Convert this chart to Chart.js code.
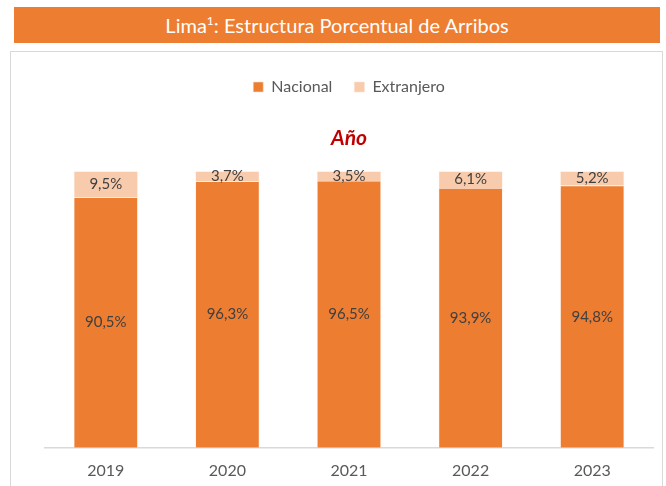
<!DOCTYPE html>
<html>
<head>
<meta charset="utf-8">
<script src="https://cdn.jsdelivr.net/npm/chart.js@4/dist/chart.umd.min.js"></script>
<style>
  html, body { margin: 0; padding: 0; background: #fff; }
  #wrap { position: relative; width: 666px; height: 486px; overflow: hidden; font-family: Lato, sans-serif; }
  #bar { position: absolute; left: 14px; top: 7px; width: 646px; height: 36px; background: #ED7D31;
         color: #fff; font-size: 20px; line-height: 36px; text-align: center; }
  #bar sup { font-size: 12px; vertical-align: 8px; line-height: 0; }
  #box { position: absolute; left: 10px; top: 51px; width: 651px; height: 460px; border: 1.5px solid #D9D9D9; }
  canvas { position: absolute; left: 0; top: 0; }
</style>
</head>
<body>
<div id="wrap">
  <div id="bar">Lima<sup>1</sup>: Estructura Porcentual de Arribos</div>
  <div id="box"></div>
  <canvas id="c" width="666" height="486"></canvas>
</div>
<script>
const years = ['2019', '2020', '2021', '2022', '2023'];
const nacional = [90.5, 96.3, 96.5, 93.9, 94.8];
const extranjero = [9.5, 3.7, 3.5, 6.1, 5.2];
const seriesNames = ['Nacional', 'Extranjero'];

const fmt = v => v.toFixed(1).replace('.', ',') + '%';

const labelPlugin = {
  id: 'segLabels',
  afterDatasetsDraw(chart) {
    const ctx = chart.ctx;
    ctx.save();
    ctx.font = '15px Lato';
    ctx.fillStyle = '#404040';
    ctx.textAlign = 'center';
    ctx.textBaseline = 'middle';
    chart.data.datasets.forEach((ds, i) => {
      const meta = chart.getDatasetMeta(i);
      meta.data.forEach((el, j) => {
        const p = el.getProps(['x', 'y', 'base'], true);
        ctx.fillText(fmt(ds.data[j]), p.x, (p.y + p.base) / 2);
      });
    });
    ctx.restore();
  }
};

new Chart(document.getElementById('c'), {
  type: 'bar',
  data: {
    labels: years,
    datasets: [
      { label: seriesNames[0], data: nacional, backgroundColor: '#ED7D31', borderColor: '#FBE0CF', borderWidth: 0.6 },
      { label: seriesNames[1], data: extranjero, backgroundColor: '#F8CBAD', borderColor: '#FBE0CF', borderWidth: 0.6 }
    ]
  },
  options: {
    responsive: false,
    animation: false,
    layout: { padding: { left: 45, right: 13, top: 57, bottom: -7 } },
    datasets: { bar: { barPercentage: 0.526, categoryPercentage: 1 } },
    scales: {
      x: {
        stacked: true,
        grid: { display: false, drawTicks: false },
        border: { color: '#D9D9D9', width: 1.5 },
        ticks: { color: '#595959', font: { family: 'Lato', size: 16 }, padding: 13 }
      },
      y: { stacked: true, display: false, min: 0, max: 100 }
    },
    plugins: {
      legend: {
        position: 'top',
        weight: 3000,
        labels: { color: '#595959', font: { family: 'Lato', size: 16 }, boxWidth: 10, boxHeight: 10, padding: 22 }
      },
      title: {
        display: true,
        text: 'Año',
        weight: 100,
        color: '#C00000',
        font: { family: 'Lato', size: 21, style: 'italic', weight: 'bold' },
        padding: { top: 21, bottom: 20 }
      },
      tooltip: { enabled: false }
    }
  },
  plugins: [labelPlugin]
});
</script>
</body>
</html>
